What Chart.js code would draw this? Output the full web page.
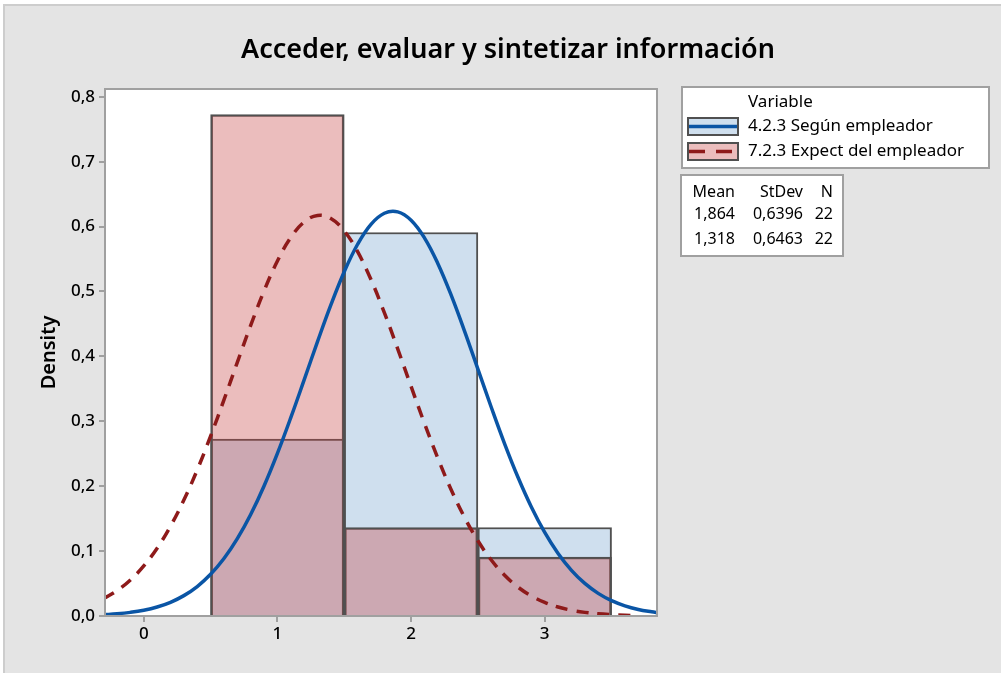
<!DOCTYPE html>
<html>
<head>
<meta charset="utf-8">
<title>Acceder, evaluar y sintetizar información</title>
<script src="https://cdn.jsdelivr.net/npm/chart.js@4.4.1/dist/chart.umd.min.js"></script>
<style>
  body { margin: 0; background: #fff; }
  canvas { display: block; }
</style>
</head>
<body>
<canvas id="GraficaHistograma" width="1001" height="673"></canvas>
<script>
// datos
const titulo = 'Acceder, evaluar y sintetizar información';
const variables = ['4.2.3 Según empleador', '7.2.3 Expect del empleador'];
const centrosBarras = [1, 2, 3];
const densidadSegun = [0.2727, 0.5909, 0.1364];
const densidadExpect = [0.7727, 0.1364, 0.0909];
const medias = ['1,864', '1,318'];
const desviaciones = ['0,6396', '0,6463'];
const tamanos = ['22', '22'];
const ticksX = [0, 1, 2, 3];
const ticksY = [0, 0.1, 0.2, 0.3, 0.4, 0.5, 0.6, 0.7, 0.8];

// curvas normales
const curvaX = [-0.3, -0.2, -0.1, 0, 0.1, 0.2, 0.3, 0.4, 0.5, 0.6, 0.7, 0.8, 0.9, 1.0,
    1.1, 1.2, 1.3, 1.4, 1.5, 1.6, 1.7, 1.8, 1.9, 2.0, 2.1, 2.2, 2.3, 2.4, 2.5, 2.6,
    2.7, 2.8, 2.9, 3.0, 3.1, 3.2, 3.3, 3.4, 3.5, 3.6, 3.7, 3.8, 3.85];
const curvaSegun = [0.0020, 0.0034, 0.0056, 0.0089, 0.0139, 0.0211, 0.0314, 0.0454, 0.0642,
    0.0885, 0.1191, 0.1563, 0.2003, 0.2505, 0.3056, 0.3638, 0.4228, 0.4794, 0.5305, 0.5728,
    0.6035, 0.6206, 0.6227, 0.6098, 0.5827, 0.5433, 0.4944, 0.4390, 0.3804, 0.3217, 0.2654,
    0.2138, 0.1680, 0.1288, 0.0964, 0.0704, 0.0502, 0.0349, 0.0237, 0.0157, 0.0101, 0.0064, 0.0050];
const curvaExpect = [0.0269, 0.0391, 0.0556, 0.0772, 0.1045, 0.1383, 0.1786, 0.2251, 0.2771,
    0.3330, 0.3908, 0.4477, 0.5008, 0.5470, 0.5832, 0.6071, 0.6171, 0.6124, 0.5933, 0.5613,
    0.5184, 0.4674, 0.4116, 0.3538, 0.2969, 0.2433, 0.1946, 0.1520, 0.1159, 0.0863, 0.0627,
    0.0445, 0.0309, 0.0209, 0.0138, 0.0089, 0.0056, 0.0034, 0.0021, 0.0012, 0.0007];

const azulLinea = '#0a55a5';
const rojoLinea = '#8e1a1a';
const azulBarra = '#cfdfee';
const rojoBarra = 'rgba(199, 69, 69, 0.354)';
const bordeBarra = '#505050';
const grisEje = '#a0a0a0';
const fuente = '"Noto Sans", "Open Sans", sans-serif';

function puntos(xs, ys) {
    const res = [];
    for (var i = 0; i < ys.length; i++) {
        res.push({ x: xs[i], y: ys[i] });
    }
    return res;
}

// fondo gris, area blanca, titulo, leyenda y tabla
const pluginFondo = {
    id: 'fondo',
    beforeDraw: function (chart) {
        const ctx = chart.ctx;
        const a = chart.chartArea;
        ctx.save();
        ctx.fillStyle = '#ffffff';
        ctx.fillRect(0, 0, chart.width, chart.height);
        ctx.fillStyle = '#cdcdcd';
        ctx.fillRect(3, 4, chart.width - 3, chart.height - 4);
        ctx.fillStyle = '#e4e4e4';
        ctx.fillRect(5, 6, chart.width - 5, chart.height - 6);
        ctx.fillStyle = '#ffffff';
        ctx.fillRect(a.left, a.top, a.right - a.left, a.bottom - a.top);
        ctx.restore();
    },
    afterDraw: function (chart) {
        const ctx = chart.ctx;
        const a = chart.chartArea;
        ctx.save();
        // marco del area de la grafica
        ctx.strokeStyle = grisEje;
        ctx.lineWidth = 2;
        ctx.strokeRect(a.left, a.top, a.right - a.left, a.bottom - a.top);

        // titulo
        ctx.fillStyle = '#000';
        ctx.font = '600 27px ' + fuente;
        ctx.textAlign = 'center';
        ctx.textBaseline = 'middle';
        ctx.fillText(titulo, 508, 50);

        // leyenda
        ctx.fillStyle = '#fff';
        ctx.fillRect(682, 87, 307, 81);
        ctx.strokeStyle = grisEje;
        ctx.lineWidth = 2;
        ctx.strokeRect(682, 87, 307, 81);
        ctx.fillStyle = '#000';
        ctx.font = '17px ' + fuente;
        ctx.textAlign = 'left';
        ctx.fillText('Variable', 748, 102);

        const muestras = [
            { y: 118, relleno: azulBarra, linea: azulLinea, guion: [] },
            { y: 143, relleno: '#ebbdbd', linea: rojoLinea, guion: [16, 11] }
        ];
        for (var i = 0; i < muestras.length; i++) {
            const m = muestras[i];
            ctx.fillStyle = m.relleno;
            ctx.fillRect(688, m.y, 50, 17);
            ctx.strokeStyle = bordeBarra;
            ctx.lineWidth = 2;
            ctx.setLineDash([]);
            ctx.strokeRect(688, m.y, 50, 17);
            ctx.strokeStyle = m.linea;
            ctx.lineWidth = 3.5;
            ctx.setLineDash(m.guion);
            ctx.beginPath();
            ctx.moveTo(689, m.y + 8.5);
            ctx.lineTo(737, m.y + 8.5);
            ctx.stroke();
            ctx.setLineDash([]);
            ctx.fillStyle = '#000';
            ctx.fillText(variables[i], 748, m.y + 8);
        }

        // tabla de estadisticos
        ctx.fillStyle = '#fff';
        ctx.fillRect(681, 175, 162, 81);
        ctx.strokeStyle = grisEje;
        ctx.lineWidth = 2;
        ctx.strokeRect(681, 175, 162, 81);
        ctx.fillStyle = '#000';
        ctx.font = '16px ' + fuente;
        ctx.textAlign = 'right';
        ctx.fillText('Mean', 735, 192);
        ctx.fillText('StDev', 803, 192);
        ctx.fillText('N', 833, 192);
        for (var j = 0; j < medias.length; j++) {
            const yy = 214 + j * 25;
            ctx.fillText(medias[j], 735, yy);
            ctx.fillText(desviaciones[j], 803, yy);
            ctx.fillText(tamanos[j], 833, yy);
        }
        ctx.restore();
    }
};

const $Lienzo = document.getElementById('GraficaHistograma');

new Chart($Lienzo, {
    type: 'bar',
    data: {
        datasets: [
            {
                type: 'line',
                label: variables[0],
                data: puntos(curvaX, curvaSegun),
                borderColor: azulLinea,
                borderWidth: 3.5,
                pointRadius: 0,
                tension: 0.4,
                order: 1,
            },
            {
                type: 'line',
                label: variables[1],
                data: puntos(curvaX, curvaExpect),
                borderColor: rojoLinea,
                borderWidth: 3.5,
                borderDash: [12, 9],
                pointRadius: 0,
                tension: 0.4,
                order: 0,
            },
            {
                label: variables[0],
                data: puntos(centrosBarras, densidadSegun),
                backgroundColor: azulBarra,
                borderColor: bordeBarra,
                borderWidth: 2,
                grouped: false,
                barPercentage: 1,
                categoryPercentage: 1,
                order: 3,
            },
            {
                label: variables[1],
                data: puntos(centrosBarras, densidadExpect),
                backgroundColor: rojoBarra,
                borderColor: bordeBarra,
                borderWidth: 2,
                grouped: false,
                barPercentage: 1,
                categoryPercentage: 1,
                order: 2,
            },
        ]
    },
    options: {
        responsive: false,
        animation: false,
        layout: {
            padding: { left: 0, top: 89, right: 344, bottom: 0 }
        },
        plugins: {
            legend: { display: false },
            tooltip: { enabled: false },
            title: { display: false },
        },
        scales: {
            x: {
                type: 'linear',
                min: -0.29,
                max: 3.84,
                offset: false,
                afterFit: function (scale) { scale.height = 57; },
                afterBuildTicks: function (scale) {
                    scale.ticks = ticksX.map(function (v) { return { value: v }; });
                },
                ticks: {
                    color: '#000',
                    padding: 2,
                    maxRotation: 0,
                    font: { family: fuente, size: 17, weight: '500' },
                    callback: function (v) { return String(v); }
                },
                grid: {
                    offset: false,
                    drawOnChartArea: false,
                    drawTicks: true,
                    tickLength: 6,
                    color: grisEje,
                    lineWidth: 2,
                },
                border: { color: grisEje, width: 2 },
            },
            y: {
                min: 0,
                max: 0.812,
                afterFit: function (scale) { scale.width = 105; },
                afterBuildTicks: function (scale) {
                    scale.ticks = ticksY.map(function (v) { return { value: v }; });
                },
                ticks: {
                    color: '#000',
                    padding: 4,
                    font: { family: fuente, size: 17, weight: '500' },
                    callback: function (v) { return v.toFixed(1).replace('.', ','); }
                },
                grid: {
                    drawOnChartArea: false,
                    drawTicks: true,
                    tickLength: 6,
                    color: grisEje,
                    lineWidth: 2,
                },
                border: { color: grisEje, width: 2 },
                title: {
                    display: true,
                    text: 'Density',
                    color: '#000',
                    padding: { top: 37 },
                    font: { family: fuente, size: 20, weight: '600' },
                },
            },
        },
    },
    plugins: [pluginFondo],
});
</script>
</body>
</html>
